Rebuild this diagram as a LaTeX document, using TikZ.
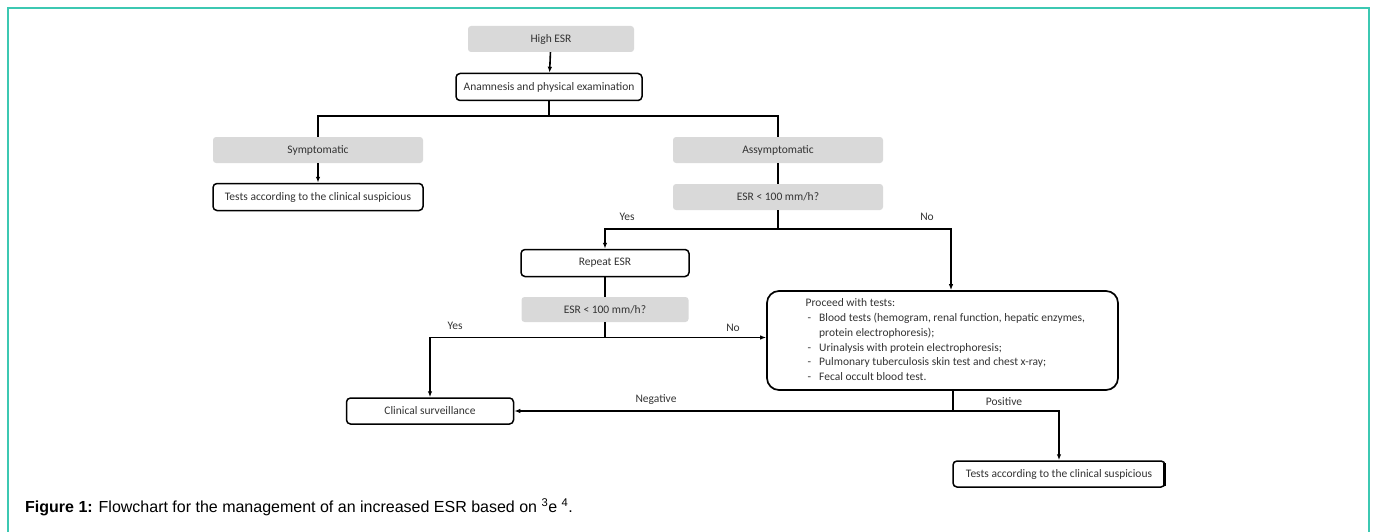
\documentclass[tikz,border=0pt]{standalone}
\usepackage{fontspec}
\setmainfont{Carlito}
\newfontfamily\capfont{Liberation Sans}
\usetikzlibrary{arrows.meta,calc}
\definecolor{frame}{HTML}{3CC8B2}
\definecolor{boxgray}{HTML}{D9D9D9}
\definecolor{txt}{HTML}{333333}
\tikzset{
  graybox/.style={fill=boxgray, rounded corners=3pt, minimum height=26pt, text=txt, font=\fontsize{11.5}{13}\selectfont, inner sep=0pt},
  whitebox/.style={draw=black, line width=1.5pt, rounded corners=4pt, minimum height=27pt, text=txt, font=\fontsize{11.5}{13}\selectfont, inner sep=0pt, fill=white},
  conn/.style={line width=1.6pt, draw=black},
  arr/.style={conn, -{Latex[length=6pt,width=4.5pt]}},
  lbl/.style={text=txt, font=\fontsize{11.5}{13}\selectfont, inner sep=0pt}
}
\begin{document}
\begin{tikzpicture}[x=1pt,y=-1pt]
\useasboundingbox (0,0) rectangle (1375,532);
% frame
\draw[frame, line width=1.8pt] (8,540) -- (8,8) -- (1369,8) -- (1369,540);
% nodes
\node[graybox, minimum width=166pt] (high) at (551,39) {High ESR};
\node[whitebox, minimum width=186pt] (anam) at (549,87) {Anamnesis and physical examination};
\node[graybox, minimum width=210pt] (symp) at (318,150) {Symptomatic};
\node[whitebox, minimum width=210pt] (tests1) at (318,197) {Tests according to the clinical suspicious};
\node[graybox, minimum width=210pt] (asym) at (778,150) {Assymptomatic};
\node[graybox, minimum width=210pt] (esr1) at (778,197) {ESR < 100 mm/h?};
\node[whitebox, minimum width=168pt] (rep) at (605,263) {Repeat ESR};
\node[graybox, minimum width=167pt, minimum height=25pt] (esr2) at (605,309.5) {ESR < 100 mm/h?};
\node[draw=black, line width=1.7pt, rounded corners=12pt, minimum width=351pt, minimum height=99pt, inner sep=0pt] (proc) at (942.5,340.5) {};
\node[anchor=north west, inner sep=0pt, text=txt, align=left] (proctext) at (805.5,296.5) {\fontsize{11.5}{14.7}\selectfont
\begin{tabular}{@{}p{13.5pt}@{}l@{}}
\multicolumn{2}{@{}l@{}}{Proceed with tests:}\\
\hspace{2pt}- & Blood tests (hemogram, renal function, hepatic enzymes,\\
 & protein electrophoresis);\\
\hspace{2pt}- & Urinalysis with protein electrophoresis;\\
\hspace{2pt}- & Pulmonary tuberculosis skin test and chest x-ray;\\
\hspace{2pt}- & Fecal occult blood test.
\end{tabular}};
\node[whitebox, minimum width=167pt, minimum height=26pt] (clin) at (430,411) {Clinical surveillance};
\node[whitebox, minimum width=212pt, minimum height=26pt] (tests2) at (1059,474) {Tests according to the clinical suspicious};
\draw[line width=2.8pt] (1164.5,463) -- (1164.5,486);
% junctions
\coordinate (j1) at (549,116);
\coordinate (j2) at (778,229);
\coordinate (j3) at (605,337.5);
\coordinate (j4) at (953,411);
% connectors
\draw[arr] (high) -- (anam);
\draw[conn] (anam.south) -- (j1);
\draw[conn] (symp.north) |- (j1) -| (asym.north);
\draw[arr] (symp) -- (tests1);
\draw[conn] (asym) -- (esr1);
\draw[conn] (esr1.south) -- (j2);
\draw[arr] (j2) -| (rep.north);
\draw[arr] (j2) -| ([xshift=8.5pt]proc.north);
\draw[conn] (rep) -- (esr2);
\draw[conn] (esr2.south) -- (j3);
\draw[arr] (j3) -| (clin.north);
\draw[arr] (j3) -- (proc.west |- j3);
\draw[conn] ([xshift=10.5pt]proc.south) -- (j4);
\draw[arr] (j4) -- (clin.east);
\draw[arr] (j4) -| (tests2.north);
% labels
\node[lbl] (yes1) at (627,217) {Yes};
\node[lbl] (no1) at (927,217) {No};
\node[lbl] (yes2) at (455,326) {Yes};
\node[lbl] (no2) at (733,328) {No};
\node[lbl] (neg) at (656,400) {Negative};
\node[lbl] (pos) at (1004,402) {Positive};
% caption
\node[anchor=west, inner sep=0pt, font=\capfont\fontsize{16}{18}\selectfont, text=black] (cap) at (25,507) {\textbf{Figure 1:} Flowchart for the management of an increased ESR based on \textsuperscript{3}e \textsuperscript{4}.};
\end{tikzpicture}
\end{document}
